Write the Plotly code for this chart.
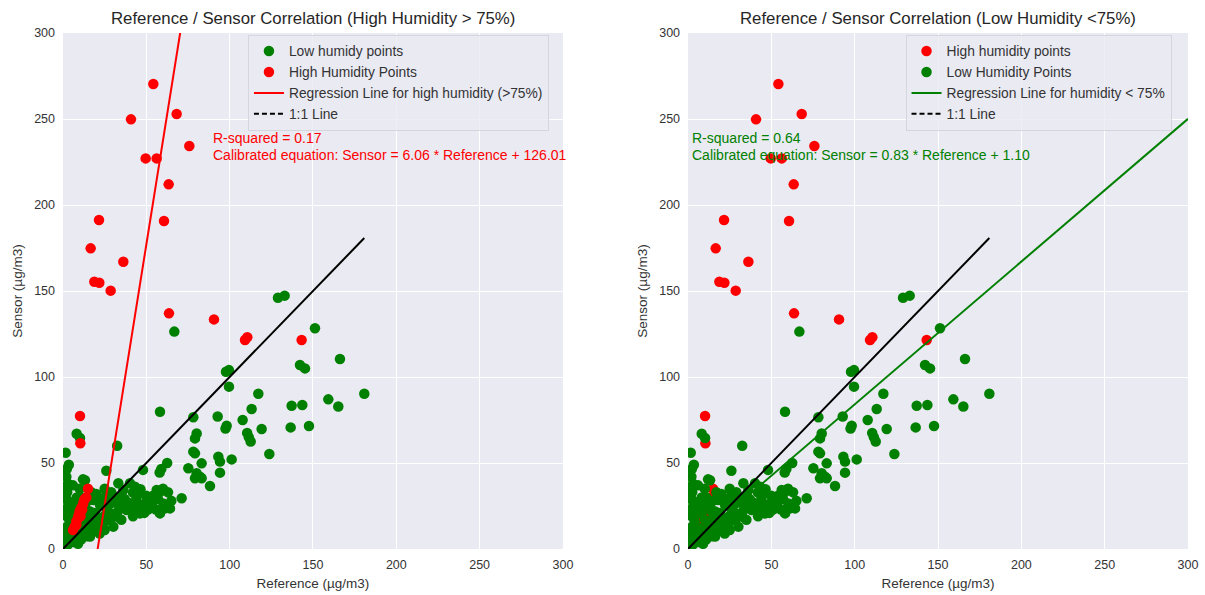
import plotly.graph_objects as go
from plotly.subplots import make_subplots

# Low-humidity samples (reference, sensor) in µg/m3
low_ref = [
    129, 133, 66.8, 151.2, 166.2, 142.2, 145.2, 97.8, 99.6, 99.6, 117.2, 180.8,
    159.2, 165.2, 137.2, 143.6, 113.2, 58.2, 78.2, 92.8, 107.8, 98.2, 97.5, 136.6,
    147.6, 119.2, 110.5, 111.5, 112.6, 80.2, 79.2, 78.2, 79.2, 93.2, 94.2, 101.2,
    123.8, 83.2, 94.2, 75.2, 80.2, 82.2, 79.2, 83.2, 88.2, 71.2, 62.5, 59, 58,
    60, 58, 61, 48, 32.5, 26, 8.2, 10.2, 1.6, 3.5, 2.3, 12, 13.2,
    2.5, 2.5, 3, 2.5, 2.5, 8.2, 7.8, 8.2, 18.2, 22.2, 26.2, 28.2, 33.2, 36.2,
    40.2, 43.2, 46.2, 49.2, 52.2, 56.2, 59.2, 60.2, 58.2, 62.2, 46.2, 38.2, 32.2,
    28.2, 24.2, 20.2, 16.2, 12.2, 18.2, 13.2, 10.2, 44.2, 34.2, 30.2, 24.2, 61.2,
    35, 42, 46.5, 50, 53.5, 55.8, 48.8, 42, 37.3, 30.4, 25.8, 28, 21.2, 16.6,
    14.3, 10.8, 7.4, 1.6, 2.8, 64.2, 5, 6, 4, 7, 9, 11, 14, 15, 17, 19, 20, 23,
    25, 27, 29, 31, 33, 35, 37, 39, 41, 44, 47, 51, 54, 57, 63, 65, 5, 6, 4, 9,
    12, 15, 19, 22, 25, 13, 16, 10, 6, 3, 1, 1, 1, 1, 2,
]
low_sensor = [
    146.1, 147.3, 126.4, 128.3, 110.5, 107, 105, 103.1, 104, 94.4, 90.3, 90.3,
    87, 82.8, 83.3, 83.7, 81.4, 79.8, 76.6, 77, 75, 71.7, 70, 70.7,
    71.5, 69.8, 67.5, 65, 62.5, 67.2, 64.3, 56.6, 55.6, 53.7, 50.8, 52.1,
    55.2, 49.8, 44.4, 46.9, 44, 42, 41.1, 41.1, 36.6, 29.5, 50, 46.5, 44.5,
    35, 33, 24.5, 46, 60, 45.5, 67, 64.5, 56, 49, 46.5, 40.5, 40,
    33, 28.5, 24.6, 18.8, 13, 30, 24.5, 21, 28.5, 25.6, 22.7, 28.5, 38.2, 34.3,
    38.2, 36.2, 32.4, 26.5, 28.5, 34.3, 34.3, 26.5, 20.7, 24.6, 20.7, 22.7, 18.8,
    16.9, 14.9, 11, 7.2, 9.1, 16.9, 14.9, 16.9, 24.6, 26.5, 13, 18.8, 23.6,
    30.9, 32.8, 34.8, 30.9, 27, 23, 21, 19, 25, 27, 30.9, 21, 17, 11.3,
    7.4, 5.5, 9.4, 5.5, 2.5, 23.6, 20, 27, 16, 12, 26, 30, 22, 28, 33, 21, 32, 29,
    35, 25, 33, 30, 22, 17, 29, 27, 24, 29, 25, 23, 31, 29, 33, 28, 8, 4, 11, 3,
    12, 18, 13, 9, 11, 25, 22, 35, 37, 38, 30, 22, 10, 35, 42,
]

# High-humidity samples (reference, sensor) in µg/m3
high_ref = [
    54.2, 40.8, 68.2, 75.8, 49.6, 56.2, 63.4, 21.6, 60.6, 16.6, 36.2, 18.8, 21.8,
    28.6, 63.6, 90.6, 109.2, 110.6, 143.2, 10.2, 10.4,
    6, 7, 8, 9, 9.5, 10, 11, 12, 12.5, 13, 14, 15, 8, 10.5, 11.5,
]
high_sensor = [
    270.3, 249.8, 252.9, 234.3, 227.1, 227.1, 212, 191.3, 190.7, 174.8, 167, 155.4, 154.8,
    150.2, 137, 133.5, 121.5, 123.1, 121.5, 77.3, 61.5,
    11, 13, 16, 18, 20, 22, 24, 26, 28, 29, 30, 35, 14, 19, 23,
]

# Fitted regressions
high_slope, high_intercept, high_r2 = 6.06, -126.01, 0.17
low_slope, low_intercept, low_r2 = 0.83, 1.10, 0.64

axis_max = 300
axis_ticks = [0, 50, 100, 150, 200, 250, 300]

GREEN = "#008000"
RED = "#FF0000"
BG = "#EAEAF2"
FONT = "Liberation Sans, Arial, sans-serif"
TEXT = "#333333"

fig = make_subplots(rows=1, cols=2)

max_ref = max(low_ref + high_ref)
one_x = [0, max_ref]
high_line_x = [min(high_ref), max(high_ref)]
high_line_y = [high_slope * v + high_intercept for v in high_line_x]
low_line_x = [0, axis_max]
low_line_y = [low_slope * v + low_intercept for v in low_line_x]

mk = dict(size=10.5, line=dict(width=0))
DASH = "5px,3px"

# ---- left panel: high humidity regression ----
fig.add_trace(go.Scatter(x=low_ref, y=low_sensor, mode="markers", name="Low humidy points",
                         marker=dict(color=GREEN, **mk), legend="legend"), 1, 1)
fig.add_trace(go.Scatter(x=high_ref, y=high_sensor, mode="markers", name="High Humidity Points",
                         marker=dict(color=RED, **mk), legend="legend"), 1, 1)
fig.add_trace(go.Scatter(x=high_line_x, y=high_line_y, mode="lines",
                         name="Regression Line for high humidity (>75%)",
                         line=dict(color=RED, width=2), legend="legend"), 1, 1)
fig.add_trace(go.Scatter(x=one_x, y=one_x, mode="lines", showlegend=False,
                         line=dict(color="black", width=2), legend="legend"), 1, 1)
fig.add_trace(go.Scatter(x=[None], y=[None], mode="lines", name="1:1 Line",
                         line=dict(color="black", width=2, dash=DASH), legend="legend"), 1, 1)

# ---- right panel: low humidity regression ----
fig.add_trace(go.Scatter(x=high_ref, y=high_sensor, mode="markers", name="High humidity points",
                         marker=dict(color=RED, **mk), legend="legend2"), 1, 2)
fig.add_trace(go.Scatter(x=low_ref, y=low_sensor, mode="markers", name="Low Humidity Points",
                         marker=dict(color=GREEN, **mk), legend="legend2"), 1, 2)
fig.add_trace(go.Scatter(x=low_line_x, y=low_line_y, mode="lines",
                         name="Regression Line for humidity < 75%",
                         line=dict(color=GREEN, width=2), legend="legend2"), 1, 2)
fig.add_trace(go.Scatter(x=one_x, y=one_x, mode="lines", showlegend=False,
                         line=dict(color="black", width=2), legend="legend2"), 1, 2)
fig.add_trace(go.Scatter(x=[None], y=[None], mode="lines", name="1:1 Line",
                         line=dict(color="black", width=2, dash=DASH), legend="legend2"), 1, 2)

axis_style = dict(range=[0, axis_max], tickvals=axis_ticks, showgrid=True, gridcolor="white",
                  gridwidth=1, zeroline=False, showline=False, ticks="", automargin=False,
                  tickfont=dict(family=FONT, size=12.5, color=TEXT))
for i, dom in ((1, [0, 0.4444]), (2, [0.5556, 1.0])):
    sfx = "" if i == 1 else str(i)
    fig.layout["xaxis" + sfx].update(domain=dom, **axis_style, ticklabelstandoff=6,
                                     title=dict(text="Reference (µg/m3)", standoff=8,
                                                font=dict(family=FONT, size=13.5, color=TEXT)))
    fig.layout["yaxis" + sfx].update(domain=[0, 1], **axis_style, ticklabelstandoff=7,
                                     title=dict(text="Sensor (µg/m3)", standoff=8,
                                                font=dict(family=FONT, size=13.5, color=TEXT)))

legend_style = dict(xanchor="left", yanchor="top", bgcolor="rgba(234,234,242,0.8)",
                    bordercolor="#D5D5DE", borderwidth=1, tracegroupgap=0,
                    font=dict(family=FONT, size=13.8, color=TEXT))
fig.update_layout(
    width=1205, height=595,
    margin=dict(l=63, r=17, t=33, b=46, autoexpand=False),
    plot_bgcolor=BG, paper_bgcolor="white",
    legend=dict(x=0.1644, y=0.997, **legend_style),
    legend2=dict(x=0.7489, y=0.997, **legend_style),
)

titles = ["Reference / Sensor Correlation (High Humidity > 75%)",
          "Reference / Sensor Correlation (Low Humidity <75%)"]
for i, t in enumerate(titles, start=1):
    sfx = "" if i == 1 else str(i)
    fig.add_annotation(text=t, xref=f"x{sfx} domain", yref="paper", x=0.5, y=1.0,
                       yshift=15, showarrow=False, xanchor="center", yanchor="middle",
                       font=dict(family=FONT, size=16.8, color="#262626"))

# regression statistics
stats = [
    ("x", "y", 88.8, high_r2, high_slope, high_intercept, RED),
    ("x2", "y2", 1.2, low_r2, low_slope, low_intercept, GREEN),
]
for xr, yr, xpos, r2, s, b, col in stats:
    fig.add_annotation(text=f"R-squared = {r2:.2f}", xref=xr, yref=yr, x=xpos, y=239,
                       showarrow=False, xanchor="left", yanchor="middle",
                       font=dict(family=FONT, size=14, color=col))
    fig.add_annotation(text=f"Calibrated equation: Sensor = {s:.2f} * Reference + {abs(b):.2f}",
                       xref=xr, yref=yr, x=xpos, y=229, showarrow=False,
                       xanchor="left", yanchor="middle",
                       font=dict(family=FONT, size=14, color=col))

fig.write_html("out.html")
